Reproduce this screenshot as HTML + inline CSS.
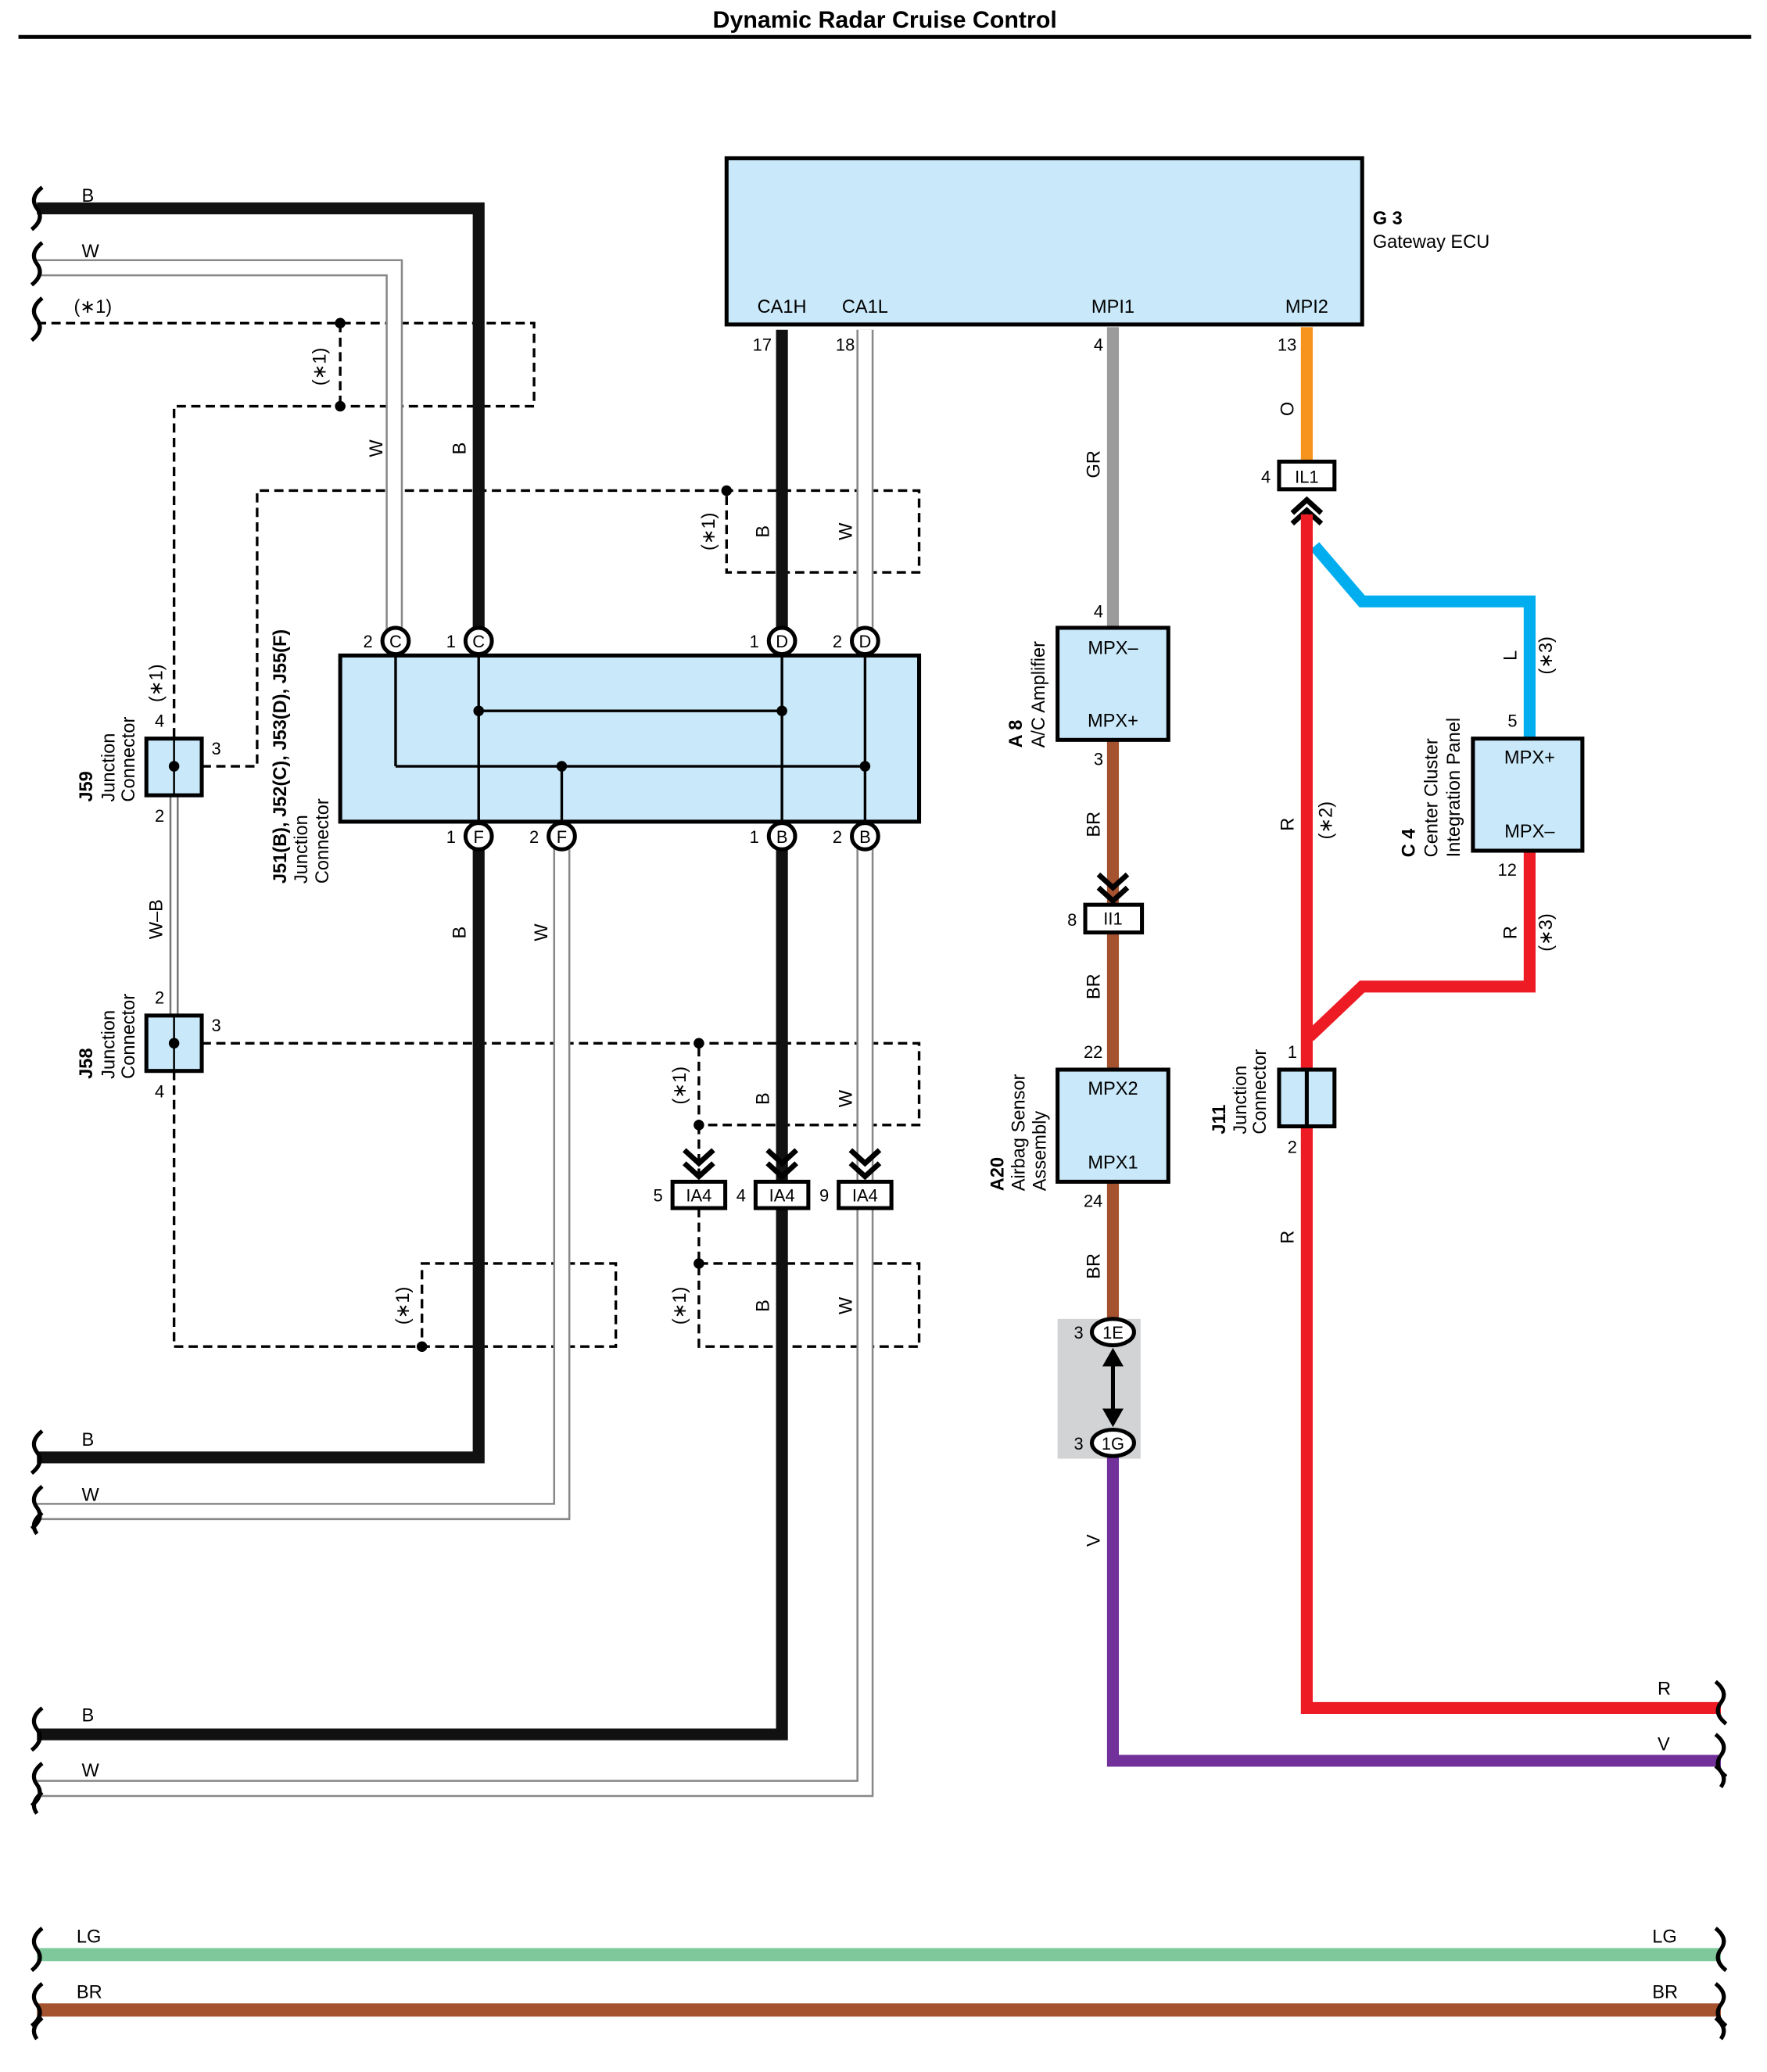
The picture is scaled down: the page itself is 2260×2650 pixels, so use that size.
<!DOCTYPE html>
<html><head><meta charset="utf-8"><style>html,body{margin:0;padding:0;background:#fff}svg{display:block}</style></head><body>
<svg xmlns="http://www.w3.org/2000/svg" width="2260" height="2650" viewBox="0 0 1340 1571" preserveAspectRatio="none" font-family="Liberation Sans, sans-serif" font-size="14">
<rect width="1340" height="1571" fill="#fff"/>
<text x="671" y="21" text-anchor="middle" font-weight="bold" font-size="18">Dynamic Radar Cruise Control</text>
<line x1="14" y1="28" x2="1328" y2="28" stroke="#000" stroke-width="3"/>

<!-- dashed *1 lines -->
<g fill="none" stroke="#000" stroke-width="2" stroke-dasharray="7,4">
<polyline points="28,245 405,245 405,308 132,308 132,560"/>
<line x1="258" y1="245" x2="258" y2="308"/>
<polyline points="153,581 195,581 195,372 697,372 697,434 551,434 551,372"/>
<polyline points="153,791 697,791 697,853 530,853 530,791"/>
<line x1="530" y1="853" x2="530" y2="896"/>
<polyline points="132,812 132,1021 467,1021 467,958 320,958 320,1021"/>
<polyline points="530,916 530,1021 697,1021 697,958 530,958"/>
</g>
<g fill="#000">
<circle cx="258" cy="245" r="4"/><circle cx="258" cy="308" r="4"/><circle cx="551" cy="372" r="4"/>
<circle cx="530" cy="791" r="4"/><circle cx="530" cy="853" r="4"/><circle cx="320" cy="1021" r="4"/><circle cx="530" cy="958" r="4"/>
</g>

<!-- white wires (gray outline) -->
<g fill="none" stroke-linejoin="miter">
<polyline points="28,203 299,203 299,486" stroke="#888" stroke-width="13"/>
<polyline points="28,203 299,203 299,486" stroke="#fff" stroke-width="10"/>
<polyline points="426,634 426,1146 28,1146" stroke="#888" stroke-width="13"/>
<polyline points="426,634 426,1146 28,1146" stroke="#fff" stroke-width="10"/>
<polyline points="656,250 656,1356 28,1356" stroke="#888" stroke-width="13"/>
<polyline points="656,250 656,1356 28,1356" stroke="#fff" stroke-width="10"/>
<line x1="132" y1="603" x2="132" y2="770" stroke="#777" stroke-width="7"/>
<line x1="132" y1="603" x2="132" y2="770" stroke="#fff" stroke-width="4"/>
</g>
<!-- black wires -->
<g fill="none" stroke="#111" stroke-width="9">
<polyline points="28,158 363,158 363,486"/>
<polyline points="363,634 363,1105 28,1105"/>
<polyline points="593,634 593,1315 28,1315"/>
<line x1="593" y1="250" x2="593" y2="486"/>
</g>

<!-- big junction box -->
<rect x="258" y="497" width="439" height="126" fill="#c9e8f9" stroke="#000" stroke-width="3"/>
<g stroke="#000" stroke-width="2">
<line x1="363" y1="497" x2="363" y2="623"/><line x1="593" y1="497" x2="593" y2="623"/><line x1="656" y1="497" x2="656" y2="623"/>
<line x1="300" y1="497" x2="300" y2="581"/><line x1="426" y1="581" x2="426" y2="623"/>
<line x1="363" y1="539" x2="593" y2="539"/><line x1="300" y1="581" x2="656" y2="581"/>
</g>
<g fill="#000"><circle cx="363" cy="539" r="4"/><circle cx="593" cy="539" r="4"/><circle cx="426" cy="581" r="4"/><circle cx="656" cy="581" r="4"/></g>
<g fill="#fff" stroke="#000" stroke-width="3">
<circle cx="300" cy="486" r="10"/><circle cx="363" cy="486" r="10"/><circle cx="593" cy="486" r="10"/><circle cx="656" cy="486" r="10"/>
<circle cx="363" cy="634" r="10"/><circle cx="426" cy="634" r="10"/><circle cx="593" cy="634" r="10"/><circle cx="656" cy="634" r="10"/>
</g>
<g font-size="13" text-anchor="middle">
<text x="300" y="491">C</text><text x="363" y="491">C</text><text x="593" y="491">D</text><text x="656" y="491">D</text>
<text x="363" y="639">F</text><text x="426" y="639">F</text><text x="593" y="639">B</text><text x="656" y="639">B</text>
<text x="279" y="491">2</text><text x="342" y="491">1</text><text x="572" y="491">1</text><text x="635" y="491">2</text>
<text x="342" y="639">1</text><text x="405" y="639">2</text><text x="572" y="639">1</text><text x="635" y="639">2</text>
</g>

<!-- J59 / J58 -->
<rect x="111" y="560" width="42" height="43" fill="#c9e8f9" stroke="#000" stroke-width="3"/>
<rect x="111" y="770" width="42" height="42" fill="#c9e8f9" stroke="#000" stroke-width="3"/>
<circle cx="132" cy="581" r="4"/><circle cx="132" cy="791" r="4"/>
<line x1="132" y1="560" x2="132" y2="603" stroke="#000" stroke-width="1.5"/>
<line x1="132" y1="770" x2="132" y2="812" stroke="#000" stroke-width="1.5"/>
<g font-size="13" text-anchor="middle">
<text x="121" y="551">4</text><text x="164" y="572">3</text><text x="121" y="623">2</text>
<text x="121" y="761">2</text><text x="164" y="782">3</text><text x="121" y="832">4</text>
</g>

<!-- IA4 connectors -->
<g fill="#fff" stroke="#000" stroke-width="3">
<rect x="510" y="896" width="40" height="20"/><rect x="573" y="896" width="40" height="20"/><rect x="636" y="896" width="40" height="20"/>
</g>
<g font-size="13" text-anchor="middle">
<text x="530" y="911">IA4</text><text x="593" y="911">IA4</text><text x="656" y="911">IA4</text>
<text x="499" y="911">5</text><text x="562" y="911">4</text><text x="625" y="911">9</text>
</g>
<g fill="none" stroke="#000" stroke-width="4">
<polyline points="519,872 530,882 541,872"/><polyline points="519,882 530,892 541,882"/>
<polyline points="582,872 593,882 604,872"/><polyline points="582,882 593,892 604,882"/>
<polyline points="645,872 656,882 667,872"/><polyline points="645,882 656,892 667,882"/>
</g>

<!-- Gateway ECU -->
<rect x="551" y="120" width="482" height="126" fill="#c9e8f9" stroke="#000" stroke-width="3"/>
<g text-anchor="middle"><text x="593" y="237">CA1H</text><text x="656" y="237">CA1L</text><text x="844" y="237">MPI1</text><text x="991" y="237">MPI2</text></g>
<g font-size="13" text-anchor="middle"><text x="578" y="266">17</text><text x="641" y="266">18</text><text x="833" y="266">4</text><text x="976" y="266">13</text></g>
<text x="1041" y="170" font-weight="bold">G 3</text><text x="1041" y="188">Gateway ECU</text>

<!-- GR / BR / V -->
<line x1="844" y1="248" x2="844" y2="476" stroke="#9b9b9b" stroke-width="9"/>
<line x1="844" y1="561" x2="844" y2="811" stroke="#a5522f" stroke-width="9"/>
<line x1="844" y1="896" x2="844" y2="1002" stroke="#a5522f" stroke-width="9"/>
<rect x="802" y="1000" width="63" height="106" fill="#d2d3d5"/>
<polyline points="844,1104 844,1335 1305,1335" fill="none" stroke="#71309a" stroke-width="9"/>
<rect x="802" y="476" width="84" height="85" fill="#c9e8f9" stroke="#000" stroke-width="3"/>
<text x="844" y="496" text-anchor="middle">MPX–</text><text x="844" y="551" text-anchor="middle">MPX+</text>
<rect x="802" y="811" width="84" height="85" fill="#c9e8f9" stroke="#000" stroke-width="3"/>
<text x="844" y="830" text-anchor="middle">MPX2</text><text x="844" y="886" text-anchor="middle">MPX1</text>
<rect x="823" y="686" width="43" height="21" fill="#fff" stroke="#000" stroke-width="3"/>
<text x="844" y="701" text-anchor="middle" font-size="13">II1</text>
<g fill="none" stroke="#000" stroke-width="4">
<polyline points="833,663 844,673 855,663"/><polyline points="833,673 844,683 855,673"/>
<polyline points="980,389 991,379 1002,389"/><polyline points="980,397 991,387 1002,397"/>
</g>
<g font-size="13" text-anchor="middle">
<text x="833" y="468">4</text><text x="833" y="580">3</text><text x="813" y="702">8</text>
<text x="829" y="802">22</text><text x="829" y="915">24</text><text x="818" y="1015">3</text><text x="818" y="1099">3</text>
</g>
<ellipse cx="844" cy="1010" rx="16" ry="10" fill="#fff" stroke="#000" stroke-width="3"/>
<ellipse cx="844" cy="1094" rx="16" ry="10" fill="#fff" stroke="#000" stroke-width="3"/>
<text x="844" y="1015" text-anchor="middle" font-size="13">1E</text><text x="844" y="1099" text-anchor="middle" font-size="13">1G</text>
<line x1="844" y1="1030" x2="844" y2="1074" stroke="#000" stroke-width="3"/>
<polygon points="836,1036 844,1022 852,1036" fill="#000"/><polygon points="836,1068 844,1082 852,1068" fill="#000"/>

<!-- O / R / L -->
<line x1="991" y1="248" x2="991" y2="352" stroke="#f7941d" stroke-width="9"/>
<polyline points="997,414 1033,456 1160,456 1160,562" fill="none" stroke="#00aeef" stroke-width="9"/>
<polyline points="1160,643 1160,748 1033,748 993,786" fill="none" stroke="#ed1c24" stroke-width="9"/>
<polyline points="991,390 991,1295 1305,1295" fill="none" stroke="#ed1c24" stroke-width="9"/>
<rect x="970" y="350" width="42" height="21" fill="#fff" stroke="#000" stroke-width="3"/>
<text x="991" y="366" text-anchor="middle" font-size="13">IL1</text>
<text x="960" y="366" text-anchor="middle" font-size="13">4</text>
<rect x="1117" y="560" width="83" height="85" fill="#c9e8f9" stroke="#000" stroke-width="3"/>
<text x="1160" y="579" text-anchor="middle">MPX+</text><text x="1160" y="635" text-anchor="middle">MPX–</text>
<rect x="970" y="811" width="42" height="43" fill="#c9e8f9" stroke="#000" stroke-width="3"/>
<line x1="991" y1="811" x2="991" y2="854" stroke="#000" stroke-width="3"/>
<g font-size="13" text-anchor="middle"><text x="1147" y="551">5</text><text x="1143" y="664">12</text><text x="980" y="802">1</text><text x="980" y="874">2</text></g>

<!-- bottom LG / BR -->
<line x1="28" y1="1482" x2="1305" y2="1482" stroke="#7fc89b" stroke-width="10"/>
<line x1="28" y1="1524" x2="1305" y2="1524" stroke="#a5522f" stroke-width="10"/>

<!-- wavy brackets -->
<g fill="none" stroke="#000" stroke-width="3">
<path d="M32,142 q-10,8 -4,16 q6,8 -4,16 M32,184 q-10,8 -4,16 q6,8 -4,16 M32,226 q-10,8 -4,16 q6,8 -4,16"/>
<path d="M32,1085 q-10,8 -4,16 q6,8 -4,16 M32,1127 q-10,8 -4,16 q6,8 -4,16 M32,1147 q-10,8 -4,16"/>
<path d="M32,1295 q-10,8 -4,16 q6,8 -4,16 M32,1337 q-10,8 -4,16 q6,8 -4,16 M32,1359 q-10,8 -4,16"/>
<path d="M32,1462 q-10,8 -4,16 q6,8 -4,16 M32,1504 q-10,8 -4,16 q6,8 -4,16 M32,1530 q-10,8 -4,16"/>
<path d="M1301,1275 q10,8 4,16 q-6,8 4,16 M1301,1315 q10,8 4,16 q-6,8 4,16 M1301,1339 q10,8 4,16"/>
<path d="M1301,1462 q10,8 4,16 q-6,8 4,16 M1301,1504 q10,8 4,16 q-6,8 4,16 M1301,1530 q10,8 4,16"/>
</g>
<g font-size="14">
<text x="62" y="153">B</text><text x="62" y="195">W</text><text x="56" y="237">(∗1)</text>
<text x="62" y="1096">B</text><text x="62" y="1138">W</text><text x="62" y="1305">B</text><text x="62" y="1347">W</text>
<text x="58" y="1473">LG</text><text x="58" y="1515">BR</text>
<text x="1257" y="1285">R</text><text x="1257" y="1327">V</text><text x="1253" y="1473">LG</text><text x="1253" y="1515">BR</text>
</g>

<!-- rotated wire labels -->
<g font-size="14" text-anchor="middle">
<text transform="translate(290,340) rotate(-90)">W</text>
<text transform="translate(353,340) rotate(-90)">B</text>
<text transform="translate(247,278) rotate(-90)">(∗1)</text>
<text transform="translate(542,403) rotate(-90)">(∗1)</text>
<text transform="translate(583,403) rotate(-90)">B</text>
<text transform="translate(646,403) rotate(-90)">W</text>
<text transform="translate(123,518) rotate(-90)">(∗1)</text>
<text transform="translate(123,697) rotate(-90)">W–B</text>
<text transform="translate(353,707) rotate(-90)">B</text>
<text transform="translate(415,707) rotate(-90)">W</text>
<text transform="translate(520,823) rotate(-90)">(∗1)</text>
<text transform="translate(583,833) rotate(-90)">B</text>
<text transform="translate(646,833) rotate(-90)">W</text>
<text transform="translate(310,990) rotate(-90)">(∗1)</text>
<text transform="translate(520,990) rotate(-90)">(∗1)</text>
<text transform="translate(583,990) rotate(-90)">B</text>
<text transform="translate(646,990) rotate(-90)">W</text>
<text transform="translate(834,352) rotate(-90)">GR</text>
<text transform="translate(834,625) rotate(-90)">BR</text>
<text transform="translate(834,748) rotate(-90)">BR</text>
<text transform="translate(834,960) rotate(-90)">BR</text>
<text transform="translate(834,1168) rotate(-90)">V</text>
<text transform="translate(981,310) rotate(-90)">O</text>
<text transform="translate(981,625) rotate(-90)">R</text>
<text transform="translate(1010,622) rotate(-90)">(∗2)</text>
<text transform="translate(981,938) rotate(-90)">R</text>
<text transform="translate(1150,497) rotate(-90)">L</text>
<text transform="translate(1177,497) rotate(-90)">(∗3)</text>
<text transform="translate(1150,707) rotate(-90)">R</text>
<text transform="translate(1177,707) rotate(-90)">(∗3)</text>
</g>
<!-- component names rotated -->
<g font-size="14">
<text transform="translate(70,608) rotate(-90)" font-weight="bold">J59</text>
<text transform="translate(87,608) rotate(-90)">Junction</text>
<text transform="translate(102,608) rotate(-90)">Connector</text>
<text transform="translate(70,818) rotate(-90)" font-weight="bold">J58</text>
<text transform="translate(87,818) rotate(-90)">Junction</text>
<text transform="translate(102,818) rotate(-90)">Connector</text>
<text transform="translate(217,670) rotate(-90)" font-weight="bold">J51(B), J52(C), J53(D), J55(F)</text>
<text transform="translate(233,670) rotate(-90)">Junction</text>
<text transform="translate(249,670) rotate(-90)">Connector</text>
<text transform="translate(775,567) rotate(-90)" font-weight="bold">A 8</text>
<text transform="translate(792,567) rotate(-90)">A/C Amplifier</text>
<text transform="translate(761,903) rotate(-90)" font-weight="bold">A20</text>
<text transform="translate(777,903) rotate(-90)">Airbag Sensor</text>
<text transform="translate(793,903) rotate(-90)">Assembly</text>
<text transform="translate(1073,650) rotate(-90)" font-weight="bold">C 4</text>
<text transform="translate(1090,650) rotate(-90)">Center Cluster</text>
<text transform="translate(1107,650) rotate(-90)">Integration Panel</text>
<text transform="translate(929,860) rotate(-90)" font-weight="bold">J11</text>
<text transform="translate(945,860) rotate(-90)">Junction</text>
<text transform="translate(960,860) rotate(-90)">Connector</text>
</g>
</svg>
</body></html>
